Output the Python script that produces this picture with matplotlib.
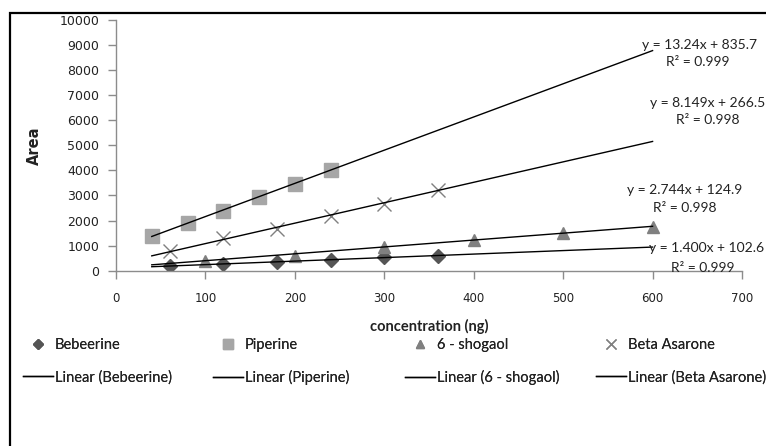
import matplotlib.pyplot as plt
import numpy as np
from matplotlib.patches import Rectangle
from matplotlib.lines import Line2D

# data
names = ['Bebeerine', 'Piperine', '6 - shogaol', 'Beta Asarone']
beb_x = [60, 120, 180, 240, 300, 360]
beb_y = [190, 250, 340, 420, 530, 600]
pip_x = [40, 80, 120, 160, 200, 240]
pip_y = [1400, 1900, 2400, 2950, 3450, 4030]
sho_x = [100, 200, 300, 400, 500, 600]
sho_y = [380, 600, 960, 1220, 1500, 1730]
asa_x = [60, 120, 180, 240, 300, 360]
asa_y = [770, 1290, 1680, 2200, 2650, 3230]

# trendline coefficients as printed on the chart
slopes = [1.400, 13.24, 2.744, 8.149]
intercepts = [102.6, 835.7, 124.9, 266.5]
r2 = [0.999, 0.999, 0.998, 0.998]
trend_x = np.array([40, 600])

W, H = 766, 446
fig = plt.figure(figsize=(W / 100, H / 100), dpi=100)
ax = fig.add_axes([116 / W, 1 - 270.7 / H, (742 - 116) / W, (270.7 - 20) / H])

tfont = 'Lato'
grey = '#8c8c8c'
txt = '#222222'

styles = [
    dict(marker='D', color='#555555', ms=7),
    dict(marker='s', color='#a6a6a6', ms=10),
    dict(marker='^', color='#808080', ms=9),
    dict(marker='x', color='#808080', ms=10, mew=1.0),
]
series = [(beb_x, beb_y), (pip_x, pip_y), (sho_x, sho_y), (asa_x, asa_y)]

for (xs, ys), st in zip(series, styles):
    ax.plot(xs, ys, linestyle='none', marker=st['marker'], color=st['color'],
            markersize=st['ms'], markeredgewidth=st.get('mew', 1.0), zorder=2)

for m, b in zip(slopes, intercepts):
    ax.plot(trend_x, m * trend_x + b, color='black', lw=1.0, zorder=3)

ax.set_xlim(0, 700)
ax.set_ylim(0, 10000)
ax.set_xticks(np.arange(0, 701, 100))
ax.set_yticks(np.arange(0, 10001, 1000))
for s in ['top', 'right']:
    ax.spines[s].set_visible(False)
for s in ['left', 'bottom']:
    ax.spines[s].set_color(grey)
    ax.spines[s].set_linewidth(1.0)
ax.tick_params(axis='both', direction='out', color=grey, length=6, width=1.0)
ax.tick_params(axis='y', labelsize=9, pad=6, labelcolor=txt)
ax.tick_params(axis='x', labelsize=8.5, pad=9, labelcolor=txt)
ax.set_ylabel('Area', fontsize=10.5, fontweight='bold', color=txt)
ax.yaxis.set_label_coords((42 - 116) / (742 - 116), 0.5)
ax.set_xlabel('concentration (ng)', family=tfont, fontsize=10.5, fontweight='bold', color=txt)
ax.xaxis.set_label_coords(0.5, -(319 - 270.7) / (270.7 - 20))

# equation labels (pixel positions of the original)
eq_pos = [(707, 248, 703, 268), (699, 45, 698, 62), (685, 190, 685, 208), (708, 103, 708, 120)]
for (x1, y1, x2, y2), m, b, r in zip(eq_pos, slopes, intercepts, r2):
    fig.text(x1 / W, 1 - y1 / H, 'y = %#.4gx + %#.4g' % (m, b),
             family=tfont, fontsize=10, ha='center', va='center', color=txt)
    fig.text(x2 / W, 1 - y2 / H, 'R² = %.3f' % r,
             family=tfont, fontsize=10, ha='center', va='center', color=txt)

# legend: one column per compound, marker entry over trendline entry
col_x = [23, 213, 405, 596]
for cx, st, n in zip(col_x, styles, names):
    h = [Line2D([], [], linestyle='none', marker=st['marker'], color=st['color'],
                markersize=st['ms'] * 0.7, markeredgewidth=st.get('mew', 1.0)),
         Line2D([], [], color='black', lw=1.0)]
    leg = fig.legend(h, [n, 'Linear (%s)' % n], loc='upper left',
                     bbox_to_anchor=(cx / W, 1 - 338 / H), frameon=False,
                     prop={'family': tfont, 'size': 10.5}, borderpad=0, borderaxespad=0,
                     handlelength=2.05, handletextpad=0.15, labelspacing=1.25,
                     labelcolor=txt)
    fig.add_artist(leg)

# outer chart frame
fig.add_artist(Rectangle((10 / W, -0.1), 1.1, 1.1 - 13 / H, transform=fig.transFigure,
                         fill=False, edgecolor='black', lw=1.6, clip_on=False))

fig.savefig('out.png', dpi=100)
